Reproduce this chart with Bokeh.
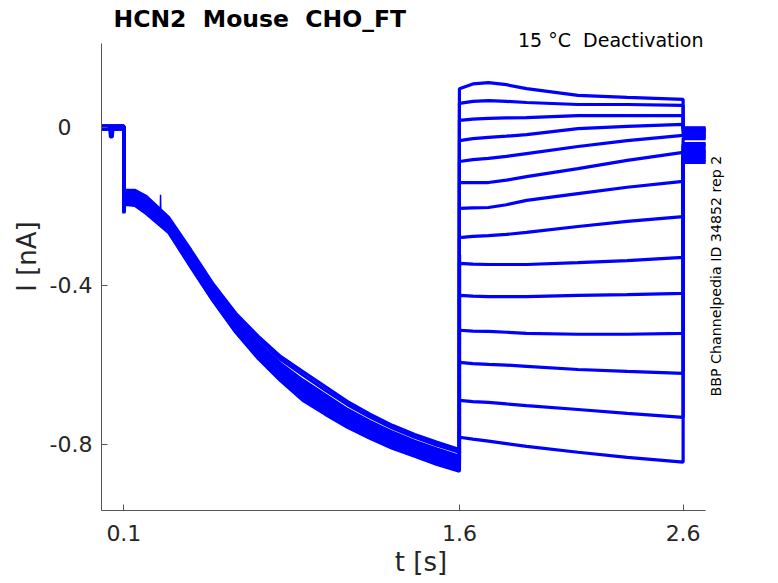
import math
from bokeh.plotting import figure
from bokeh.models import ColumnDataSource, FixedTicker, Label
from bokeh.embed import file_html
from bokeh.resources import INLINE

# ---------------- data ----------------
title_text = "HCN2\u00a0 Mouse\u00a0 CHO_FT"
cond_text = "15 \u00b0C\u00a0 Deactivation"
side_text = "BBP Channelpedia ID 34852 rep 2"

x_ticks = [0.1, 1.6, 2.6]
x_tick_labels = ["0.1", "1.6", "2.6"]
y_ticks = [-0.8, -0.4, 0.0]
y_tick_labels = ["-0.8", "-0.4", "0\u00a0\u00a0\u00a0"]

# axis extents of the drawn box (s, nA)
x_axis_bounds = (0.0, 2.7)
y_axis_bounds = (-0.967, 0.212)

# holding phase (s) and per-trace baseline (nA)
t_pre = [0.0, 0.036, 0.040, 0.048, 0.052, 0.1]
i_base = [0.004, -0.003, 0.002, -0.004, 0.003, 0.0, -0.002,
          0.003, -0.004, 0.001, 0.004, -0.003, 0.002, -0.001]
dip_trace = 4
i_pre_dip = [0.0, 0.0, -0.024, -0.024, 0.0, 0.0]

# capacitive transient at step onset (nA)
i_step = [-0.205, -0.212, -0.198, -0.215, -0.208, -0.202, -0.217,
          -0.210, -0.200, -0.213, -0.206, -0.209, -0.203, -0.211]

# activation phase (s) and currents (nA)
t_act = [0.105, 0.15, 0.2, 0.3, 0.4, 0.5, 0.6, 0.7, 0.8, 0.9, 1.0,
         1.1, 1.2, 1.3, 1.4, 1.5, 1.6]
i_act = [
    [-0.180, -0.182, -0.200, -0.250, -0.336, -0.422, -0.498, -0.561, -0.615, -0.660, -0.697, -0.732, -0.761, -0.787, -0.809, -0.829, -0.847],
    [-0.170, -0.170, -0.187, -0.238, -0.323, -0.409, -0.483, -0.544, -0.596, -0.638, -0.675, -0.712, -0.742, -0.769, -0.792, -0.812, -0.830],
    [-0.194, -0.197, -0.217, -0.265, -0.353, -0.439, -0.517, -0.583, -0.639, -0.689, -0.724, -0.757, -0.785, -0.810, -0.830, -0.851, -0.868],
    [-0.176, -0.177, -0.195, -0.245, -0.331, -0.417, -0.492, -0.554, -0.607, -0.651, -0.688, -0.724, -0.753, -0.780, -0.802, -0.822, -0.840],
    [-0.188, -0.191, -0.210, -0.259, -0.346, -0.432, -0.509, -0.574, -0.629, -0.677, -0.714, -0.747, -0.775, -0.801, -0.822, -0.842, -0.860],
    [-0.159, -0.159, -0.174, -0.227, -0.310, -0.396, -0.469, -0.527, -0.578, -0.616, -0.654, -0.692, -0.724, -0.752, -0.775, -0.795, -0.813],
    [-0.184, -0.186, -0.205, -0.254, -0.341, -0.427, -0.504, -0.567, -0.622, -0.669, -0.705, -0.740, -0.768, -0.794, -0.815, -0.835, -0.853],
    [-0.178, -0.180, -0.198, -0.248, -0.334, -0.420, -0.495, -0.558, -0.612, -0.656, -0.693, -0.728, -0.758, -0.784, -0.806, -0.826, -0.844],
    [-0.192, -0.195, -0.215, -0.263, -0.351, -0.437, -0.515, -0.580, -0.636, -0.685, -0.721, -0.755, -0.782, -0.807, -0.828, -0.848, -0.866],
    [-0.163, -0.164, -0.179, -0.232, -0.315, -0.401, -0.475, -0.534, -0.585, -0.625, -0.663, -0.700, -0.731, -0.759, -0.782, -0.802, -0.820],
    [-0.182, -0.184, -0.202, -0.252, -0.338, -0.424, -0.501, -0.564, -0.618, -0.664, -0.701, -0.736, -0.764, -0.790, -0.812, -0.832, -0.850],
    [-0.173, -0.174, -0.191, -0.242, -0.327, -0.413, -0.488, -0.549, -0.602, -0.645, -0.682, -0.718, -0.748, -0.775, -0.797, -0.817, -0.835],
    [-0.191, -0.193, -0.213, -0.261, -0.349, -0.435, -0.512, -0.577, -0.633, -0.682, -0.718, -0.751, -0.779, -0.804, -0.825, -0.845, -0.863],
    [-0.186, -0.189, -0.208, -0.257, -0.344, -0.430, -0.506, -0.571, -0.626, -0.673, -0.709, -0.743, -0.772, -0.797, -0.819, -0.839, -0.857],
]

# deactivation phase (s) and currents (nA)
t_deact = [1.6, 1.66, 1.73, 1.81, 1.9, 2.13, 2.35, 2.6]
i_deact = [
    [0.098, 0.110, 0.113, 0.108, 0.098, 0.081, 0.076, 0.071],
    [0.061, 0.066, 0.068, 0.066, 0.063, 0.058, 0.058, 0.056],
    [0.018, 0.021, 0.023, 0.024, 0.025, 0.030, 0.030, 0.030],
    [-0.033, -0.028, -0.025, -0.022, -0.018, -0.003, 0.003, 0.008],
    [-0.086, -0.081, -0.078, -0.073, -0.066, -0.048, -0.033, -0.020],
    [-0.139, -0.139, -0.139, -0.133, -0.124, -0.104, -0.083, -0.063],
    [-0.204, -0.203, -0.202, -0.195, -0.184, -0.167, -0.151, -0.136],
    [-0.278, -0.275, -0.273, -0.270, -0.265, -0.250, -0.237, -0.225],
    [-0.343, -0.345, -0.346, -0.346, -0.346, -0.341, -0.336, -0.328],
    [-0.424, -0.426, -0.427, -0.427, -0.427, -0.424, -0.422, -0.419],
    [-0.512, -0.514, -0.515, -0.517, -0.520, -0.522, -0.522, -0.520],
    [-0.593, -0.596, -0.598, -0.600, -0.603, -0.611, -0.616, -0.621],
    [-0.689, -0.692, -0.694, -0.698, -0.702, -0.712, -0.722, -0.732],
    [-0.782, -0.787, -0.792, -0.798, -0.805, -0.820, -0.833, -0.845],
]

# tail after return to holding (s, nA)
t_tail = [2.6, 2.7]
i_tail = [-0.002, -0.006, -0.010, -0.016, -0.022, -0.027, -0.042,
          -0.047, -0.056, -0.062, -0.068, -0.074, -0.080, -0.087]

# a single spike in one sweep
spike_t = [0.263, 0.264, 0.265]
spike_i = [-0.205, -0.170, -0.205]

# ---------------- build traces ----------------
xs, ys, tx, ty = [], [], [], []
for k in range(len(i_deact)):
    pre = i_pre_dip if k == dip_trace else [i_base[k]] * len(t_pre)
    xs.append(t_pre + [t_pre[-1]] + t_act + t_deact + t_tail)
    ys.append(pre + [i_step[k]] + i_act[k] + i_deact[k] + [i_tail[k], i_tail[k]])
    tx.append(t_tail)
    ty.append([i_tail[k], i_tail[k]])

src = ColumnDataSource(dict(xs=xs, ys=ys))
tail_src = ColumnDataSource(dict(xs=tx, ys=ty))

# frame extended beyond the axis box so that the outside texts are not clipped
W, H = 760, 583
left, right, top, bottom = 101, 20, 2, 73
px_per_s = 604 / (x_axis_bounds[1] - x_axis_bounds[0])
px_per_nA = 467 / (y_axis_bounds[1] - y_axis_bounds[0])
x_end = x_axis_bounds[1] + (W - left - right - 604) / px_per_s
y_end = y_axis_bounds[1] + (H - top - bottom - 467) / px_per_nA

p = figure(width=W, height=H, x_range=(x_axis_bounds[0], x_end),
           y_range=(y_axis_bounds[0], y_end),
           output_backend="svg", toolbar_location=None,
           min_border_left=left, min_border_right=right,
           min_border_top=top, min_border_bottom=bottom)

p.multi_line("xs", "ys", source=src, line_color="#0000ff", line_width=3.2)
p.multi_line("xs", "ys", source=tail_src, line_color="#0000ff", line_width=4)
p.line(spike_t, spike_i, line_color="#0000ff", line_width=1.5)

p.xgrid.visible = False
p.ygrid.visible = False
p.outline_line_color = None
p.background_fill_color = "white"
p.border_fill_color = "white"

axcol = "#555555"
txtcol = "#262626"
for ax in (p.xaxis[0], p.yaxis[0]):
    ax.axis_line_color = axcol
    ax.major_tick_line_color = axcol
    ax.minor_tick_line_color = None
    ax.major_tick_in = 6
    ax.major_tick_out = 0
    ax.major_label_text_font = "DejaVu Sans"
    ax.major_label_text_font_size = "22px"
    ax.major_label_text_color = txtcol
    ax.axis_label_text_font = "DejaVu Sans"
    ax.axis_label_text_font_size = "26px"
    ax.axis_label_text_font_style = "normal"
    ax.axis_label_text_color = txtcol

p.xaxis.bounds = x_axis_bounds
p.yaxis.bounds = y_axis_bounds
p.xaxis.ticker = FixedTicker(ticks=x_ticks)
p.xaxis.major_label_overrides = dict(zip(x_ticks, x_tick_labels))
p.yaxis.ticker = FixedTicker(ticks=y_ticks)
p.yaxis.major_label_overrides = dict(zip(y_ticks, y_tick_labels))
p.xaxis.axis_label = "t [s]"
p.yaxis.axis_label = "I [nA]"
p.xaxis.major_label_standoff = 14
p.xaxis.axis_label_standoff = 3
p.yaxis.major_label_standoff = 9
p.yaxis.axis_label_standoff = 5

p.add_layout(Label(x=0.0536, y=0.275, text=title_text, text_font="DejaVu Sans",
                   text_font_size="23.5px", text_font_style="bold", text_color="black",
                   text_align="left", text_baseline="alphabetic"))
p.add_layout(Label(x=2.691, y=0.222, text=cond_text, text_font="DejaVu Sans",
                   text_font_size="19px", text_color="black",
                   text_align="right", text_baseline="alphabetic"))
p.add_layout(Label(x=2.745, y=-0.679, text=side_text, text_font="DejaVu Sans",
                   text_font_size="14.2px", text_color="black", angle=math.pi / 2,
                   text_align="left", text_baseline="alphabetic"))

open("out.html", "w").write(file_html(p, INLINE))
